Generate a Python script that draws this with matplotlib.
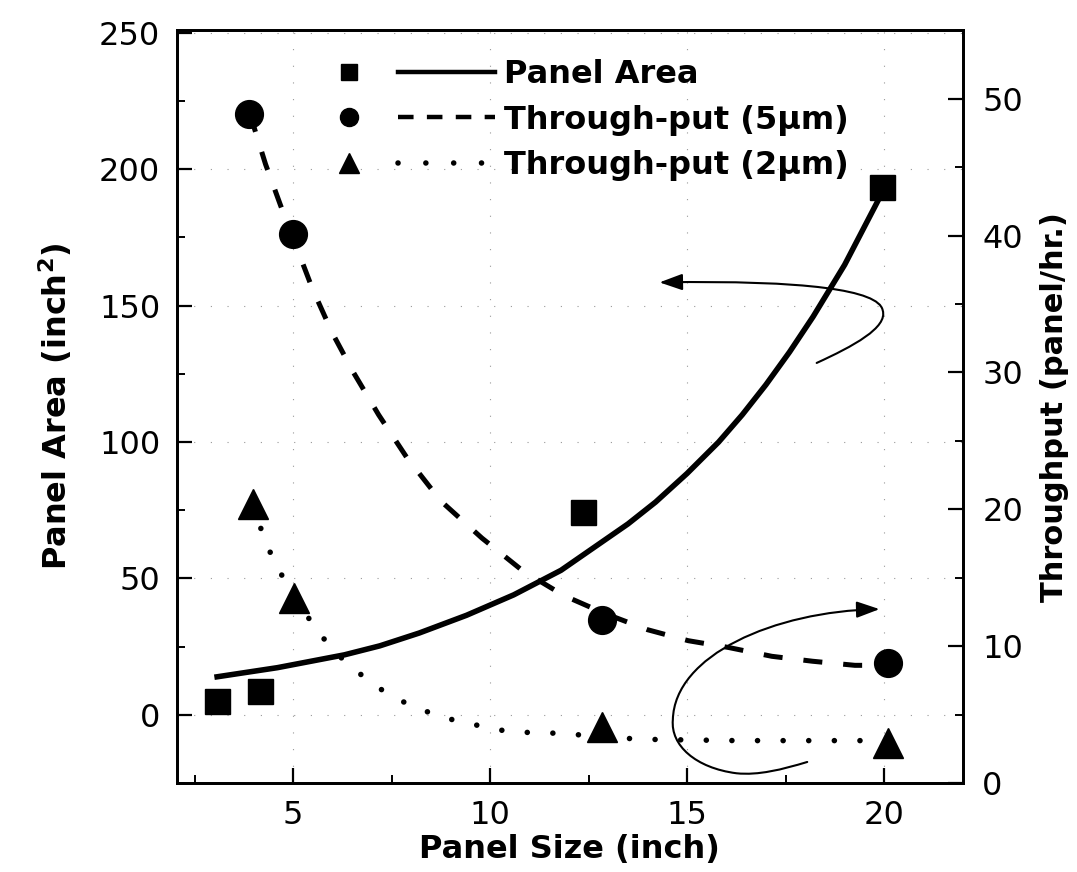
import numpy as np
import matplotlib
matplotlib.use("Agg")
import matplotlib.pyplot as plt
from matplotlib.lines import Line2D
from matplotlib.legend_handler import HandlerTuple
from matplotlib.path import Path
from matplotlib.patches import FancyArrowPatch

# ---------------- data ----------------
size_area = [3.07, 4.16, 12.37, 19.95]
area = [5.1, 8.8, 74.5, 193.4]

size_t5 = [3.89, 5.0, 12.85, 20.1]
thru_5um = [48.9, 40.1, 11.9, 8.8]

size_t2 = [3.99, 5.03, 12.85, 20.1]
thru_2um = [20.4, 13.5, 4.1, 2.9]

# trend curves (traced points)
area_fit_x = [3.0, 4.6, 6.3, 7.2, 8.2, 9.4, 10.6, 11.8, 12.6, 13.5, 14.2, 15.0,
              15.8, 16.4, 17.0, 17.6, 18.2, 19.0, 19.9]
area_fit_y = [13.8, 17.3, 22.0, 25.3, 30.0, 36.5, 44.0, 53.0, 61.0, 70.0, 78.0, 88.5,
              100.0, 110.0, 121.0, 133.0, 146.0, 165.0, 190.0]

t5_fit_x = [3.9, 4.3, 4.68, 5.49, 5.99, 6.53, 7.17, 7.88, 8.75, 9.79, 10.83, 11.87,
            12.9, 14.0, 15.03, 16.06, 17.15, 18.18, 19.26, 19.7]
t5_fit_y = [48.9, 45.2, 42.2, 36.1, 32.9, 30.0, 26.9, 23.8, 20.6, 17.9, 15.5, 13.7,
            12.4, 11.2, 10.4, 9.9, 9.26, 8.9, 8.6, 8.6]

t2_fit_x = [4.0, 4.24, 4.52, 5.03, 5.73, 6.27, 6.9, 7.51, 8.14, 8.78, 9.41, 10.0,
            10.62, 11.26, 11.89, 13.79, 16.27, 19.44, 19.9]
t2_fit_y = [20.4, 18.0, 16.2, 13.5, 10.7, 9.0, 7.5, 6.3, 5.5, 4.8, 4.4, 4.0,
            3.7, 3.7, 3.6, 3.2, 3.1, 3.1, 3.1]

x_ticks = [5, 10, 15, 20]
area_ticks = [0, 50, 100, 150, 200, 250]
thru_ticks = [0, 10, 20, 30, 40, 50]

# ---------------- figure ----------------
plt.rcParams["font.family"] = "DejaVu Sans"
fig = plt.figure(figsize=(10.77, 8.72), dpi=100)
ax = fig.add_axes([0.1643, 0.102, 0.7297, 0.8634])
ax2 = ax.twinx()

lw_axis = 2.0
for a in (ax, ax2):
    for s in a.spines.values():
        s.set_linewidth(lw_axis)

# solid: panel area (left axis)
ax.plot(area_fit_x, area_fit_y, color="black", lw=4.0, solid_capstyle="butt",
        solid_joinstyle="round", zorder=3)
ax.plot(size_area, area, ls="none", marker="s", ms=18, color="black", zorder=4)

# throughput (right axis)
ax2.plot(t5_fit_x, t5_fit_y, color="black", lw=3.6, ls=(0, (3.8, 4.2)), zorder=3)
ax2.plot(size_t5, thru_5um, ls="none", marker="o", ms=20, color="black", zorder=4)
ax2.plot(t2_fit_x, t2_fit_y, color="black", lw=4.0, ls=(0, (0.01, 4.6)),
         dash_capstyle="round", zorder=3)
ax2.plot(size_t2, thru_2um, ls="none", marker="^", ms=22, color="black", zorder=4)

ax.set_xlim(2.05, 22)
ax.set_ylim(-24, 251)
ax2.set_ylim(0, 55)

ax.set_xticks(x_ticks)
ax.set_xticks(np.arange(2.5, 22, 2.5), minor=True)
ax.set_yticks(area_ticks)
ax.set_yticks(np.arange(-25, 251, 25), minor=True)
ax2.set_yticks(thru_ticks)
ax2.set_yticks(np.arange(0, 56, 5), minor=True)

ax.tick_params(axis="both", which="major", direction="in", length=11, width=1.6,
               labelsize=23, pad=12)
ax.tick_params(axis="both", which="minor", direction="in", length=6, width=1.4)
ax.tick_params(axis="y", right=False)
ax2.tick_params(axis="y", which="major", direction="in", length=11, width=1.6,
                labelsize=23, pad=14)
ax2.tick_params(axis="y", which="minor", direction="in", length=6, width=1.4)

ax.grid(True, which="major", color="0.6", lw=0.8, ls=(0, (1, 14)))

ax.set_xlabel("Panel Size (inch)", fontsize=23, fontweight="bold", labelpad=2)
ax.set_ylabel("Panel Area (inch$^\\mathbf{2}$)", fontsize=23, fontweight="bold", labelpad=18)
ax2.set_ylabel("Throughput (panel/hr.)", fontsize=22, fontweight="bold", labelpad=12)

# legend: marker then line, then label
h_area = (Line2D([], [], ls="none", marker="s", ms=12, color="black"),
          Line2D([], [], color="black", lw=3.2))
h_t5 = (Line2D([], [], ls="none", marker="o", ms=13, color="black"),
        Line2D([], [], color="black", lw=3.2, ls=(0, (3.5, 3.0))))
h_t2 = (Line2D([], [], ls="none", marker="^", ms=14, color="black"),
        Line2D([], [], color="black", lw=4.0, ls=(0, (0.01, 5.0)), dash_capstyle="round"))
leg = ax2.legend([h_area, h_t5, h_t2],
                 ["Panel Area", "Through-put (5\u03bcm)", "Through-put (2\u03bcm)"],
                 handler_map={tuple: HandlerTuple(ndivide=None, pad=0)},
                 loc="upper left", bbox_to_anchor=(0.279, 0.932),
                 bbox_transform=fig.transFigure, frameon=False,
                 prop={"size": 23, "weight": "bold"},
                 handlelength=6.1, handletextpad=0.28, labelspacing=0.45,
                 borderpad=0, borderaxespad=0)

# curved arrows pointing to the respective axes
up_path = Path([(0.814, 0.558), (0.86, 0.58), (0.905, 0.605), (0.898, 0.628),
                (0.893, 0.655), (0.80, 0.668), (0.614, 0.665)],
               [Path.MOVETO, Path.CURVE4, Path.CURVE4, Path.CURVE4,
                Path.CURVE4, Path.CURVE4, Path.CURVE4])
low_path = Path([(0.802, 0.028), (0.77, 0.018), (0.74, 0.010), (0.712, 0.013),
                 (0.66, 0.02), (0.628, 0.05), (0.631, 0.084),
                 (0.633, 0.17), (0.76, 0.228), (0.894, 0.231)],
                [Path.MOVETO, Path.CURVE4, Path.CURVE4, Path.CURVE4,
                 Path.CURVE4, Path.CURVE4, Path.CURVE4,
                 Path.CURVE4, Path.CURVE4, Path.CURVE4])
for p in (up_path, low_path):
    arr = FancyArrowPatch(path=p, transform=ax.transAxes,
                          arrowstyle="-|>,head_length=0.7,head_width=0.25",
                          mutation_scale=20, lw=1.5, color="black", zorder=5)
    ax.add_patch(arr)

fig.savefig("out.png", dpi=100, facecolor="white")
